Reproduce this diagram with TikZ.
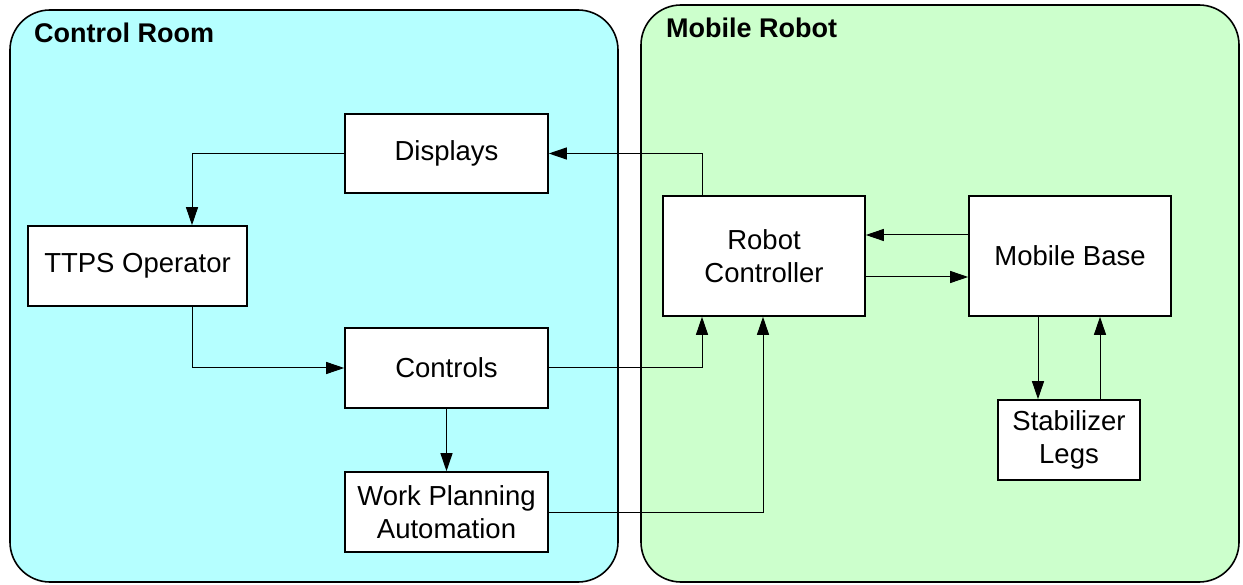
\documentclass[tikz,border=0pt]{standalone}
\usepackage{fontspec}
\setmainfont{Liberation Sans}
\usetikzlibrary{arrows.meta}
\definecolor{roomcyan}{HTML}{B5FFFF}
\definecolor{robotgreen}{HTML}{CCFFCC}
\begin{document}
\begin{tikzpicture}[x=1pt,y=-1pt,
  region/.style={draw=black, line width=1.6pt, rounded corners=40pt},
  titletext/.style={anchor=base west, inner sep=0pt, font=\fontsize{27}{32}\selectfont\bfseries},
  blockbox/.style={draw=black, fill=white, line width=1.6pt, inner sep=0pt, align=center,
    font=\fontsize{27.5}{33}\selectfont},
  conn/.style={draw=black, line width=1pt, -{Triangle[length=18pt,width=12pt]}},
]
\useasboundingbox (0,0) rectangle (1243,585);
% regions
\draw[region, fill=roomcyan] (10,10) rectangle (618,582);
\draw[region, fill=robotgreen] (641,5) rectangle (1239,582);
\node[titletext] (t1) at (34,43) {Control Room};
\node[titletext] (t2) at (666,38) {Mobile Robot};
% blocks
\node[blockbox, minimum width=219pt, minimum height=80pt] (op) at (137.5,266) {TTPS Operator};
\node[blockbox, minimum width=203pt, minimum height=79pt] (disp) at (446.5,153.5) {Displays};
\node[blockbox, minimum width=203pt, minimum height=80pt] (ctrl) at (446.5,368) {Controls};
\node[blockbox, minimum width=203pt, minimum height=80pt] (wpa) at (446.5,512) {Work Planning\\Automation};
\node[blockbox, minimum width=202pt, minimum height=120pt] (rc) at (764,256) {Robot\\Controller};
\node[blockbox, minimum width=202pt, minimum height=120pt] (mb) at (1070,256) {Mobile Base};
\node[blockbox, minimum width=142pt, minimum height=80pt] (sl) at (1069,440) {Stabilizer\\Legs};
% connectors
\coordinate (c1) at (702,153.5);
\draw[conn] (rc.north -| c1) -- (c1) -- (disp.east);
\coordinate (c2) at (192,153.5);
\draw[conn] (disp.west) -- (c2) -- (op.north -| c2);
\coordinate (c3) at (192,368);
\draw[conn] (op.south -| c3) -- (c3) -- (ctrl.west);
\coordinate (c4) at (702,368);
\draw[conn] (ctrl.east) -- (c4) -- (rc.south -| c4);
\draw[conn] (ctrl.south) -- (wpa.north);
\coordinate (c5) at (763,512);
\draw[conn] (wpa.east) -- (c5) -- (rc.south -| c5);
\coordinate (c6) at (917,235);
\draw[conn] (mb.west |- c6) -- (rc.east |- c6);
\coordinate (c7) at (917,277);
\draw[conn] (rc.east |- c7) -- (mb.west |- c7);
\coordinate (c8) at (1038,360);
\draw[conn] (mb.south -| c8) -- (sl.north -| c8);
\coordinate (c9) at (1100,360);
\draw[conn] (sl.north -| c9) -- (mb.south -| c9);
\end{tikzpicture}
\end{document}
